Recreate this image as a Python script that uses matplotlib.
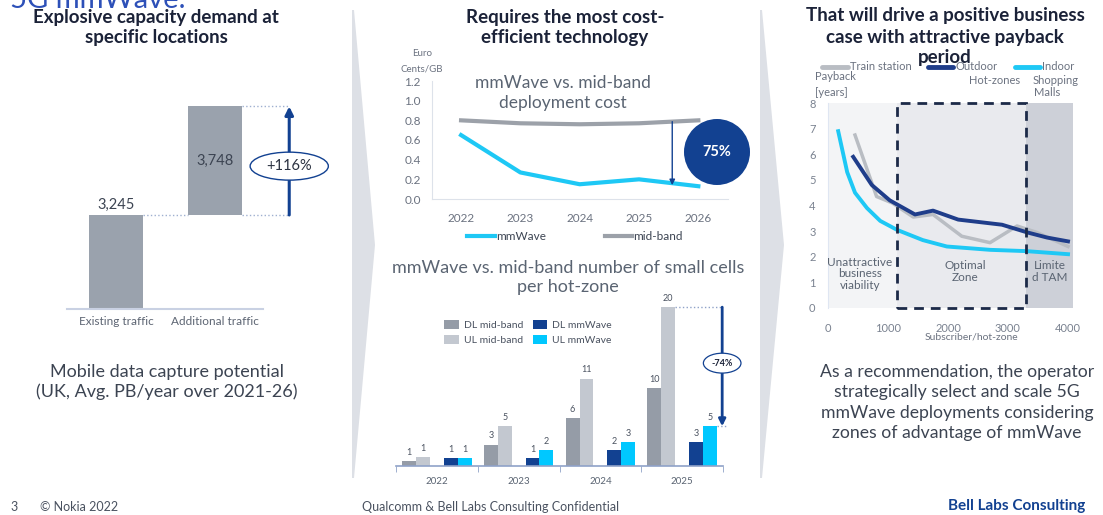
import numpy as np
import matplotlib
matplotlib.use('Agg')
import matplotlib.pyplot as plt
from matplotlib.patches import Ellipse, Circle, Polygon, Rectangle

plt.rcParams['font.family'] = ['Lato', 'DejaVu Sans']

W, H = 1103, 515

# data
traffic_labels = ['Existing traffic', 'Additional traffic']
traffic_values = [3245, 3748]

cost_years = ['2022', '2023', '2024', '2025', '2026']
cost_mmwave = [0.65, 0.27, 0.15, 0.20, 0.13]
cost_midband = [0.80, 0.77, 0.76, 0.77, 0.80]

cell_years = ['2022', '2023', '2024', '2025']
dl_mid = [0.6, 2.7, 6, 9.8]
ul_mid = [1.1, 5, 11, 20]
dl_mm = [1, 1, 2, 3]
ul_mm = [1, 2, 3, 5]

train_x = [450, 810, 1070, 1420, 1750, 2230, 2700, 3150, 3480, 4000]
train_y = [6.75, 4.35, 4.1, 3.55, 3.65, 2.8, 2.55, 3.2, 2.95, 2.4]
outdoor_x = [420, 730, 1030, 1450, 1750, 2170, 2900, 3320, 3650, 4000]
outdoor_y = [5.9, 4.8, 4.2, 3.65, 3.8, 3.45, 3.25, 2.95, 2.75, 2.6]
indoor_x = [170, 320, 450, 650, 870, 1150, 1580, 1980, 2700, 3300, 4000]
indoor_y = [6.9, 5.3, 4.5, 3.9, 3.4, 3.05, 2.65, 2.4, 2.27, 2.22, 2.1]
zone_edges = [0, 1150, 3300, 4083]

NAVY = '#124191'
TITLE = '#1b2238'
BODY = '#3c4452'
SOFT = '#6b7280'


def rect(x0, y0, x1, y1):
    return [x0 / W, 1 - y1 / H, (x1 - x0) / W, (y1 - y0) / H]


fig = plt.figure(figsize=(W / 100, H / 100), dpi=100)

# ---- left: waterfall ----
ax1 = fig.add_axes(rect(67, 90, 263, 309))
bottoms = [0, traffic_values[0]]
ax1.bar([0, 1], traffic_values, bottom=bottoms, width=0.545, color='#9aa2ad')
ax1.set_xlim(-0.495, 1.485)
ax1.set_ylim(0, 7560)
for s in ['top', 'right', 'left']:
    ax1.spines[s].set_visible(False)
ax1.spines['bottom'].set_color('#c9d1e3')
ax1.spines['bottom'].set_linewidth(1.5)
ax1.set_yticks([])
ax1.set_xticks([0, 1], traffic_labels)
ax1.tick_params(axis='x', length=0, labelsize=8.5, labelcolor='#5d6573', pad=5)
ax1.annotate(f'{traffic_values[0]:,}', (0, traffic_values[0]), xytext=(0, 2),
             textcoords='offset points', ha='center', va='bottom', fontsize=10.5, color=BODY)
ax1.text(1, bottoms[1] + traffic_values[1] / 2, f'{traffic_values[1]:,}', ha='center',
         va='center', fontsize=10.5, color=BODY)
total = traffic_values[0] + traffic_values[1]
ax1.plot([0.2725, 0.7275], [traffic_values[0]] * 2, ls=':', color='#9fb0d0', lw=1)
ax1.plot([1.2725, 1.75], [traffic_values[0]] * 2, ls=':', color='#9fb0d0', lw=1, clip_on=False)
ax1.plot([1.2725, 1.75], [total] * 2, ls=':', color='#9fb0d0', lw=1, clip_on=False)
ax1.annotate('', xy=(1.75, total), xytext=(1.75, traffic_values[0]),
             arrowprops=dict(arrowstyle='-|>', color=NAVY, lw=2.2, mutation_scale=12,
                             shrinkA=0, shrinkB=0), annotation_clip=False)
ecy = traffic_values[0] + 0.45 * traffic_values[1]
ax1.add_patch(Ellipse((1.75, ecy), 0.79, 966, facecolor='white', edgecolor=NAVY, lw=1,
                      clip_on=False, zorder=5))
ax1.text(1.75, ecy, '+116%', ha='center', va='center', fontsize=10.5, color='#2a3140', zorder=6)

# ---- middle top: cost line chart ----
ax2 = fig.add_axes(rect(432, 81, 728, 199))
ax2.set_facecolor('none')
xc = np.arange(len(cost_years))
ax2.plot(xc, cost_mmwave, color='#1ec8f5', lw=3, label='mmWave')
ax2.plot(xc, cost_midband, color='#9ca1a9', lw=3, label='mid-band')
ax2.set_xlim(-0.49, 4.5)
ax2.set_ylim(0, 1.2)
yt = np.arange(0, 1.21, 0.2)
ax2.set_yticks(yt, [f'{v:.1f}' for v in yt])
ax2.set_xticks(xc, cost_years)
for s in ['top', 'right']:
    ax2.spines[s].set_visible(False)
for s in ['left', 'bottom']:
    ax2.spines[s].set_color('#dde2ea')
ax2.tick_params(length=0, labelsize=8.5, labelcolor=SOFT)
ax2.tick_params(axis='y', pad=8)
ax2.tick_params(axis='x', pad=10)
xa = 3.56
ax2.annotate('', xy=(xa, np.interp(xa, xc, cost_mmwave) - 0.02),
             xytext=(xa, np.interp(xa, xc, cost_midband)),
             arrowprops=dict(arrowstyle='-|>', color=NAVY, lw=1, mutation_scale=8,
                             shrinkA=0, shrinkB=0))
ax2.legend(loc='center', bbox_to_anchor=(575 / W, 1 - 237 / H), bbox_transform=fig.transFigure,
           ncol=2, frameon=False, fontsize=8.5, handlelength=2.3, handletextpad=0.1,
           columnspacing=5, labelcolor=BODY)

# ---- middle bottom: small cells bar chart ----
ax3 = fig.add_axes(rect(396, 300, 723, 466))
ax3.set_facecolor('none')
xb = np.arange(len(cell_years))
series = [(dl_mid, 'DL mid-band', '#959ca7', -0.34), (ul_mid, 'UL mid-band', '#c3c8d0', -0.17),
          (dl_mm, 'DL mmWave', NAVY, 0.17), (ul_mm, 'UL mmWave', '#00c8ff', 0.34)]
for vals, lab, col, off in series:
    bars = ax3.bar(xb + off, vals, 0.17, color=col, label=lab)
    ax3.bar_label(bars, labels=[f'{round(v)}' for v in vals], padding=3, fontsize=6.5,
                  color='#4a5260')
ax3.set_xlim(-0.5, 3.5)
ax3.set_ylim(0, 20.9)
for s in ['top', 'right', 'left']:
    ax3.spines[s].set_visible(False)
ax3.spines['bottom'].set_color('#8fa2c8')
ax3.spines['bottom'].set_linewidth(1.2)
ax3.set_yticks([])
ax3.set_xticks(xb, cell_years)
ax3.set_xticks(np.arange(-0.5, 3.6, 1), minor=True)
ax3.tick_params(axis='x', which='major', length=0, labelsize=7, labelcolor='#5a6472', pad=8)
ax3.tick_params(axis='x', which='minor', length=4, color='#8fa2c8')
ax3.legend(loc='upper left', bbox_to_anchor=(444 / W, 1 - 320 / H), bbox_transform=fig.transFigure,
           ncol=2, frameon=False, fontsize=7.5, handlelength=1.4, handleheight=1.0,
           handletextpad=0.5, columnspacing=0.9, labelspacing=0.45, borderpad=0,
           borderaxespad=0, labelcolor='#4a5260')
ax3.plot([3 - 0.17 + 0.085, 3.5], [ul_mid[-1]] * 2, ls=':', color='#8fa2c8', lw=1, clip_on=False)
ax3.plot([3.34 + 0.085, 3.56], [ul_mm[-1]] * 2, ls=':', color='#8fa2c8', lw=1, clip_on=False)
ax3.annotate('', xy=(3.49, ul_mm[-1]), xytext=(3.49, ul_mid[-1]),
             arrowprops=dict(arrowstyle='-|>', color=NAVY, lw=2, mutation_scale=10,
                             shrinkA=0, shrinkB=0), annotation_clip=False)
ax3.add_patch(Ellipse((3.49, 12.95), 0.46, 2.5, facecolor='white', edgecolor=NAVY, lw=0.9,
                      clip_on=False, zorder=5))
ax3.text(3.49, 12.95, '-74%', ha='center', va='center', fontsize=6.5, color=TITLE,
         fontweight='bold', zorder=6)

# ---- right: payback chart ----
ax4 = fig.add_axes(rect(828, 103, 1073, 308))
zone_cols = ['#f3f4f6', '#e9eaee', '#cdd0d8']
for i, c in enumerate(zone_cols):
    ax4.axvspan(zone_edges[i], zone_edges[i + 1], color=c, lw=0)
ax4.plot(train_x, train_y, color='#b9bdc3', lw=2.5)
ax4.plot(outdoor_x, outdoor_y, color='#1f3d8a', lw=2.8)
ax4.plot(indoor_x, indoor_y, color='#1ec8f5', lw=2.8)
ax4.add_patch(Rectangle((zone_edges[1], 0), zone_edges[2] - zone_edges[1], 8, fill=False,
                        ls=(0, (3.5, 2.5)), lw=2, edgecolor='#1c2a48', clip_on=False, zorder=4))
ax4.set_xlim(0, zone_edges[-1])
ax4.set_ylim(0, 8)
ax4.set_xticks(range(0, 4001, 1000))
ax4.set_yticks(range(0, 9))
for s in ['top', 'right', 'bottom']:
    ax4.spines[s].set_visible(False)
ax4.spines['left'].set_color('#dfe6f2')
ax4.tick_params(length=0, labelsize=8, labelcolor='#7a8290')
ax4.tick_params(axis='x', pad=11)
ax4.tick_params(axis='y', pad=9)
zone_labels = ['Unattractive\nbusiness\nviability', 'Optimal\nZone', 'Limite\nd TAM']
zone_pos = [(533, 1.33), (2283, 1.42), (3700, 1.42)]
for lab, (zx, zy) in zip(zone_labels, zone_pos):
    ax4.text(zx, zy, lab, ha='center', va='center', fontsize=8.5, color='#5a6472',
             linespacing=1.05, zorder=5)

# ---- overlay: texts, chevrons, footer ----
ov = fig.add_axes([0, 0, 1, 1])
ov.set_xlim(0, W)
ov.set_ylim(H, 0)
ov.axis('off')
ov.set_facecolor('none')

for xs in [(352, 354, 375), (760, 762, 784)]:
    ov.add_patch(Polygon([(xs[0], 10), (xs[1], 10), (xs[2], 245), (xs[1], 478), (xs[0], 478)],
                         closed=True, facecolor='#dde0e6', edgecolor='none', zorder=0))

ov.text(10, 8, '5G mmWave.', fontsize=21, color='#2d50b8', va='baseline', ha='left')

titles = [(156, ['Explosive capacity demand at', 'specific locations'], [17, 38]),
          (565, ['Requires the most cost-', 'efficient technology'], [17, 38]),
          (945, ['That will drive a positive business', 'case with attractive payback', 'period'],
           [16, 37, 58])]
for cx, lines, ys in titles:
    for ln, y in zip(lines, ys):
        ov.text(cx, y, ln, ha='center', va='center', fontsize=13.5, fontweight='bold', color=TITLE)

for ln, y in zip(['Mobile data capture potential', '(UK, Avg. PB/year over 2021-26)'], [372, 392]):
    ov.text(167, y, ln, ha='center', va='center', fontsize=13, color=BODY)

for ln, y in zip(['mmWave vs. mid-band', 'deployment cost'], [83, 103]):
    ov.text(563, y, ln, ha='center', va='center', fontsize=12.5, color='#5a6472')
ov.text(422, 54, 'Euro', ha='center', va='center', fontsize=7, color=SOFT)
ov.text(422, 69, 'Cents/GB', ha='center', va='center', fontsize=7, color=SOFT)
ov.add_patch(Circle((717, 152), 33, facecolor=NAVY, edgecolor='none'))
ov.text(717, 152, '75%', ha='center', va='center', fontsize=10.5, fontweight='bold', color='white')

for ln, y in zip(['mmWave vs. mid-band number of small cells', 'per hot-zone'], [268, 287]):
    ov.text(568, y, ln, ha='center', va='center', fontsize=13, color='#5a6472')

# payback legend
leg = [((822, 848), '#b9bdc3', [('Train station', 850, 67)]),
       ((928, 953), '#1f3d8a', [('Outdoor', 955, 67), ('Hot-zones', 969, 80)]),
       ((1015, 1040), '#1ec8f5', [('Indoor', 1042, 67), ('Shopping', 1033, 80), ('Malls', 1034, 93)])]
for (lx0, lx1), col, items in leg:
    ov.plot([lx0, lx1], [67, 67], color=col, lw=3.5, solid_capstyle='round')
    for t, tx, ty in items:
        ov.text(tx, ty, t, ha='left', va='center', fontsize=8, color=SOFT)
ov.text(815, 77, 'Payback', ha='left', va='center', fontsize=8, color=SOFT)
ov.text(815, 92, '[years]', ha='left', va='center', fontsize=8, color=SOFT)
ov.text(971, 337, 'Subscriber/hot-zone', ha='center', va='center', fontsize=7.5, color=SOFT)

rec = ['As a recommendation, the operator', 'strategically select and scale 5G',
       'mmWave deployments considering', 'zones of advantage of mmWave']
for ln, y in zip(rec, [372, 392, 413, 433]):
    ov.text(957, y, ln, ha='center', va='center', fontsize=12.7, color=BODY)

ov.text(10, 507, '3', ha='left', va='center', fontsize=9, color='#4a5260')
ov.text(40, 507, '© Nokia 2022', ha='left', va='center', fontsize=9, color='#4a5260')
ov.text(491, 507, 'Qualcomm & Bell Labs Consulting Confidential', ha='center', va='center',
        fontsize=9, color='#4a5260')
ov.text(1085, 506, 'Bell Labs Consulting', ha='right', va='center', fontsize=11,
        color=NAVY, fontweight='bold')

fig.savefig('out.png', dpi=100)
